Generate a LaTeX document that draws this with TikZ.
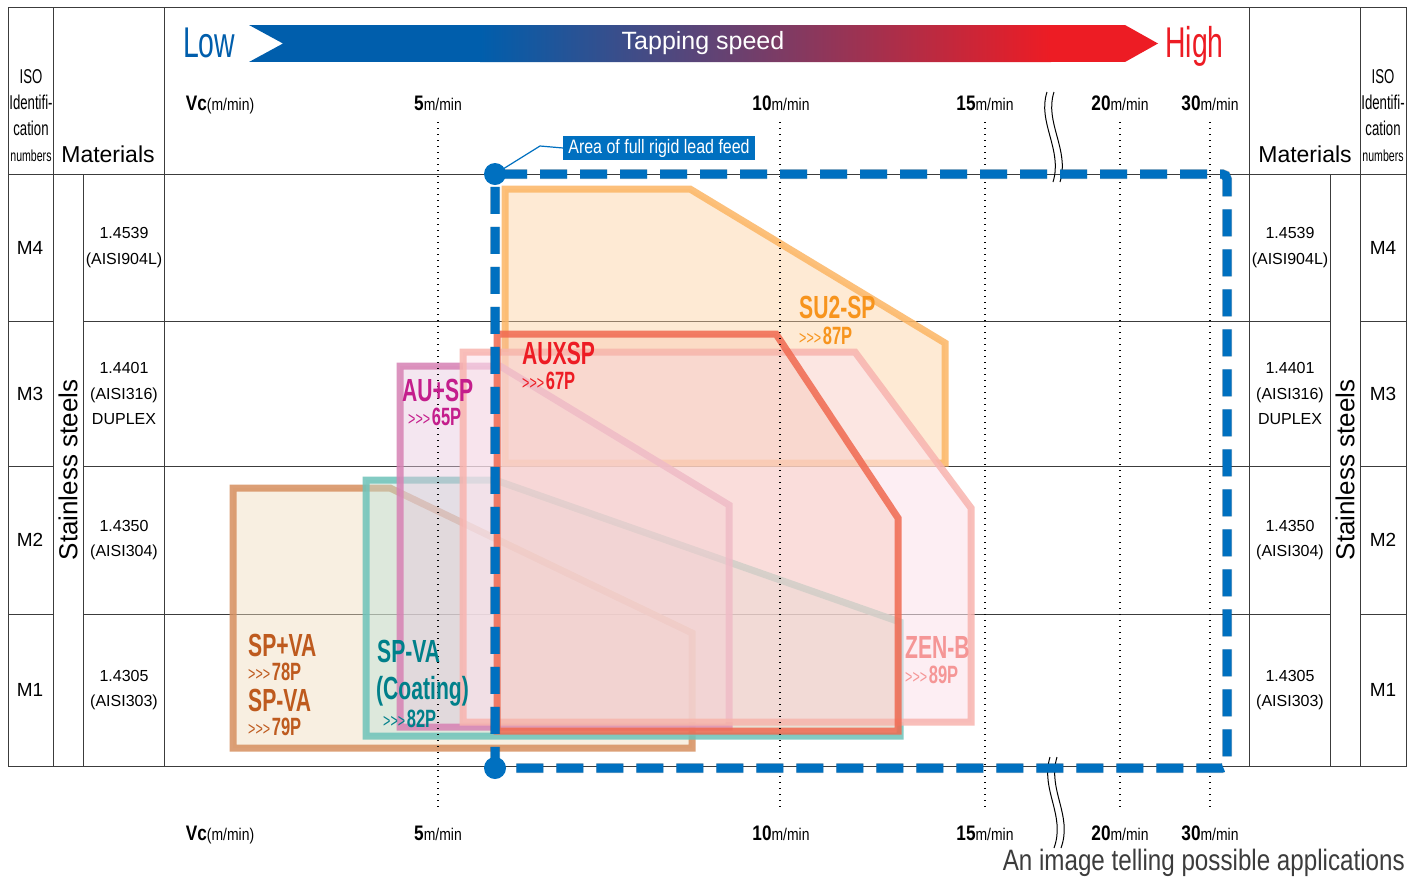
\documentclass[tikz,border=0pt]{standalone}
\usepackage{fontspec}
\setmainfont{Liberation Sans}
\newfontfamily\narrowfont{Liberation Sans}[FakeStretch=0.66]
\newfontfamily\semifont{Liberation Sans}[FakeStretch=0.82]
\usepackage{tikz}
\definecolor{speedblue}{RGB}{0,94,172}
\definecolor{speedred}{RGB}{237,28,36}
\definecolor{feedblue}{RGB}{0,112,192}
\definecolor{gridgray}{RGB}{60,60,60}
\definecolor{suline}{RGB}{252,182,100}\definecolor{sufill}{RGB}{253,210,160}\definecolor{sutext}{RGB}{247,148,29}
\definecolor{auxline}{RGB}{240,105,80}\definecolor{auxfill}{RGB}{245,185,165}\definecolor{auxtext}{RGB}{237,28,36}
\definecolor{zenline}{RGB}{248,180,175}\definecolor{zenfill}{RGB}{252,228,236}\definecolor{zentext}{RGB}{245,150,150}
\definecolor{auline}{RGB}{215,130,180}\definecolor{aufill}{RGB}{232,200,222}\definecolor{autext}{RGB}{196,30,140}
\definecolor{vcline}{RGB}{110,195,185}\definecolor{vcfill}{RGB}{190,225,215}\definecolor{vctext}{RGB}{0,128,138}
\definecolor{valine}{RGB}{214,143,95}\definecolor{vafill}{RGB}{240,220,190}\definecolor{vatext}{RGB}{190,90,30}
\newcommand{\tapcode}[1]{{\fontsize{19}{19}\selectfont >>>}\,{\bfseries\fontsize{25}{25}\selectfont #1}}
\newcommand{\vcunit}[1]{{\bfseries\fontsize{21}{21}\selectfont #1}{\fontsize{17}{17}\selectfont m/min}}
\tikzset{
  tabline/.style={draw=gridgray,line width=1pt},
  rowtxt/.style={font=\fontsize{19}{19}\selectfont,inner sep=0pt},
  mattxt/.style={font=\fontsize{16}{25.5}\selectfont,align=center,inner sep=0pt},
  isotxt/.style={font=\narrowfont\fontsize{20}{26}\selectfont,align=center,inner sep=0pt},
  speedlbl/.style={font=\semifont,anchor=base,inner sep=0pt},
  vline/.style={line width=1.4pt,dash pattern=on 1.4pt off 4.6pt},
  zone/.style={line width=7pt,fill opacity=0.45,draw opacity=0.85},
  zonename/.style={font=\narrowfont\bfseries\fontsize{32}{32}\selectfont,anchor=base west,inner sep=0pt,text depth=0pt},
  zonecode/.style={font=\narrowfont,anchor=base west,inner sep=0pt,text height=15pt,text depth=0pt},
  feedframe/.style={draw=feedblue,line width=9pt,dash pattern=on 27pt off 13pt,rounded corners=5pt},
  breakline/.style={line width=1pt,black}
}
\begin{document}
\begin{tikzpicture}[x=1pt,y=-1pt]
\useasboundingbox (0,0) rectangle (1420,879);
\fill[white] (0,0) rectangle (1420,879);
\draw[tabline] (8,7) rectangle (1406,766);
\foreach \x in {53,164,1249,1360} \draw[tabline] (\x,7) -- (\x,766);
\foreach \x in {83,1330} \draw[tabline] (\x,174) -- (\x,766);
\draw[tabline] (8,174) -- (1406,174);
\foreach \y in {321,466,614} {\draw[tabline] (8,\y) -- (53,\y); \draw[tabline] (83,\y) -- (1330,\y); \draw[tabline] (1360,\y) -- (1406,\y);}
\node[isotxt] (isoheadL) at (31,116) {ISO\\Identifi-\\cation\\{\fontsize{16}{26}\selectfont numbers}};
\node[isotxt] (isoheadR) at (1383,116) {ISO\\Identifi-\\cation\\{\fontsize{16}{26}\selectfont numbers}};
\node[anchor=base,inner sep=0pt,font=\fontsize{23}{23}\selectfont] (matheadL) at (108,162) {Materials};
\node[anchor=base,inner sep=0pt,font=\fontsize{23}{23}\selectfont] (matheadR) at (1305,162) {Materials};
\node[rotate=90,inner sep=0pt,font=\fontsize{26}{26}\selectfont] (steelL) at (68,470) {Stainless steels};
\node[rotate=90,inner sep=0pt,font=\fontsize{26}{26}\selectfont] (steelR) at (1345,470) {Stainless steels};
\foreach \yy/\iso/\mat in {247.5/M4/{1.4539\\(AISI904L)},393.5/M3/{1.4401\\(AISI316)\\DUPLEX},540/M2/{1.4350\\(AISI304)},690/M1/{1.4305\\(AISI303)}}{
  \node[rowtxt] (isoL\iso) at (30,\yy) {\iso};
  \node[mattxt] (matL\iso) at (124,\yy) {\mat};
  \node[mattxt] (matR\iso) at (1290,\yy) {\mat};
  \node[rowtxt] (isoR\iso) at (1383,\yy) {\iso};
}
\begin{scope}
\clip (249,25) -- (1125,25) -- (1158,43.5) -- (1125,62) -- (249,62) -- (283,43.5) -- cycle;
\fill[speedblue] (249,25) rectangle (481,62);
\shade[left color=speedblue,right color=speedred] (480,25) rectangle (1051,62);
\fill[speedred] (1050,25) rectangle (1160,62);
\end{scope}
\node[anchor=base west,inner sep=0pt,text=speedblue,font=\narrowfont\fontsize{43}{43}\selectfont] (low) at (183,57) {Low};
\node[anchor=base west,inner sep=0pt,text=speedred,font=\narrowfont\fontsize{43}{43}\selectfont] (high) at (1165,57) {High};
\node[inner sep=0pt,text=white,font=\fontsize{25}{25}\selectfont] (speedtitle) at (703,43) {Tapping speed};
\foreach \yb/\side in {110/top,840/bot}{
  \node[speedlbl] (vc\side) at (220,\yb) {{\bfseries\fontsize{21}{21}\selectfont Vc}{\fontsize{17}{17}\selectfont(m/min)}};
  \foreach \xs/\v in {438/5,781/10,985/15,1120/20,1210/30}
    \node[speedlbl] (v\v\side) at (\xs,\yb) {\vcunit{\v}};
}
\draw[zone,draw=suline,fill=sufill] (505,189) -- (690,189) -- (945,343) -- (945,463) -- (505,463) -- cycle;
\draw[zone,draw=valine,fill=vafill] (233,488) -- (390,488) -- (692,633) -- (692,748) -- (233,748) -- cycle;
\draw[zone,draw=vcline,fill=vcfill] (366,480) -- (495,480) -- (900,622) -- (900,736) -- (366,736) -- cycle;
\draw[zone,draw=auline,fill=aufill] (400,366) -- (500,366) -- (729,505) -- (729,727) -- (400,727) -- cycle;
\draw[zone,draw=zenline,fill=zenfill,fill opacity=0.6] (463,352) -- (855,352) -- (971,508) -- (971,722) -- (463,722) -- cycle;
\draw[zone,draw=auxline,fill=auxfill,fill opacity=0.3] (497,334) -- (776,334) -- (898,518) -- (898,731) -- (497,731) -- cycle;
\foreach \x in {438,780,985,1120,1210} \draw[vline] (\x,122) -- (\x,808);
\draw[breakline] (1047,92) .. controls (1037,122) and (1063,150) .. (1053,182);
\draw[breakline] (1054,92) .. controls (1044,122) and (1070,150) .. (1060,182);
\draw[breakline] (1050,757) .. controls (1040,790) and (1066,815) .. (1054,848);
\draw[breakline] (1057,757) .. controls (1047,790) and (1073,815) .. (1061,848);
\node[zonename,text=sutext] (su2) at (799,318) {SU2-SP};
\node[zonecode,text=sutext] (su2code) at (799,344) {\tapcode{87P}};
\node[zonename,text=auxtext] (auxsp) at (522,364) {AUXSP};
\node[zonecode,text=auxtext] (auxcode) at (522,389) {\tapcode{67P}};
\node[zonename,text=autext] (ausp) at (402,401) {AU+SP};
\node[zonecode,text=autext] (aucode) at (408,425) {\tapcode{65P}};
\node[zonename,text=zentext] (zenb) at (905,658) {ZEN-B};
\node[zonecode,text=zentext] (zencode) at (905,683) {\tapcode{89P}};
\node[zonename,text=vatext] (spva) at (248,656) {SP+VA};
\node[zonecode,text=vatext] (spvacode) at (248,680) {\tapcode{78P}};
\node[zonename,text=vatext] (spvb) at (248,711) {SP-VA};
\node[zonecode,text=vatext] (spvbcode) at (248,735) {\tapcode{79P}};
\node[zonename,text=vctext] (spvc) at (377,662) {SP-VA};
\node[zonename,text=vctext] (coating) at (376,699) {(Coating)};
\node[zonecode,text=vctext] (spvccode) at (383,727) {\tapcode{82P}};
\coordinate (fTL) at (495,174); \coordinate (fTR) at (1227,174); \coordinate (fBR) at (1227,768); \coordinate (fBL) at (495,768);
\draw[feedframe,draw=black,draw opacity=0.22,line width=10pt,shift={(3,4)}] (fTL) -- (fTR) -- (fBR) -- (fBL) -- cycle;
\draw[feedframe] (fTL) -- (fTR) -- (fBR) -- (fBL) -- cycle;
\fill[feedblue] (fTL) circle[radius=11pt]; \fill[feedblue] (fBL) circle[radius=11pt];
\node[fill=feedblue,text=white,inner xsep=5pt,inner ysep=0pt,minimum height=24pt,font=\semifont\fontsize{19.5}{19.5}\selectfont] (feedlbl) at (659,148) {Area of full rigid lead feed};
\draw[feedblue,line width=1.2pt] (fTL) -- (540,146) -- (feedlbl.west);
\node[anchor=base east,inner sep=0pt,text=gridgray,font=\semifont\fontsize{29.5}{29.5}\selectfont] (caption) at (1405,870) {An image telling possible applications};
\end{tikzpicture}
\end{document}
